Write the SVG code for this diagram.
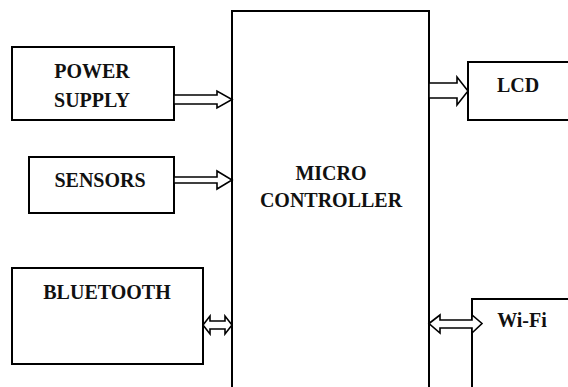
<svg xmlns="http://www.w3.org/2000/svg" width="568" height="387" viewBox="0 0 568 387">
<style>
.box{fill:#fff;stroke:#000;stroke-width:2}
.arr{fill:#fff;stroke:#000;stroke-width:1.6;stroke-linejoin:miter}
.t{font-family:"Liberation Serif","Times New Roman",serif;font-weight:bold;font-size:20px;fill:#111;text-anchor:middle}
</style>
<rect width="568" height="387" fill="#fff"/>
<g id="micro">
<rect class="box" x="232" y="11" width="197" height="390"/>
<text class="t" x="331" y="180">MICRO</text>
<text class="t" x="331" y="207">CONTROLLER</text>
</g>
<g id="power">
<rect class="box" x="12" y="47" width="162" height="73"/>
<text class="t" x="92" y="78">POWER</text>
<text class="t" x="92" y="107">SUPPLY</text>
</g>
<g id="sensors">
<rect class="box" x="29" y="157" width="145" height="56"/>
<text class="t" x="100" y="187">SENSORS</text>
</g>
<g id="bluetooth">
<rect class="box" x="12" y="268" width="191" height="96"/>
<text class="t" x="107" y="299">BLUETOOTH</text>
</g>
<g id="lcd">
<rect class="box" x="468" y="62" width="110" height="58"/>
<text class="t" x="518" y="92">LCD</text>
</g>
<g id="wifi">
<rect class="box" x="472" y="299" width="110" height="100"/>
<text class="t" x="522" y="327">Wi-Fi</text>
</g>
<g id="connectors">
<path class="arr" d="M174,95 H217 V91 L232,99.5 L217,108 V104 H174 Z"/>
<path class="arr" d="M174,177 H217 V171 L232,180 L217,189 V183 H174 Z"/>
<path class="arr" d="M203,325 L210,316 V321 H225 V316 L232,325 L225,334 V329 H210 V334 Z"/>
<path class="arr" d="M429,83 H457 V77 L468,91 L457,105 V98 H429 Z"/>
<path class="arr" d="M429,323.5 L440,315 V320 H472 V315 L482,323.5 L472,333 V328 H440 V333 Z"/>
</g>
</svg>
